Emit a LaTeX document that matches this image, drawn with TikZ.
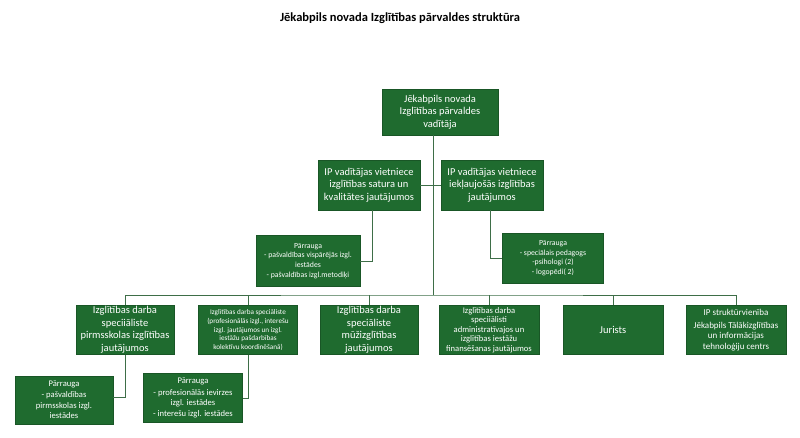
\documentclass[tikz,border=0pt]{standalone}
\usepackage{fontspec}
\setmainfont{Carlito}
\begin{document}
\begin{tikzpicture}[x=1pt,y=-1pt,
 box/.style={fill=gr,draw=gr!80!black,text=white,align=center,inner sep=1pt,font=\fontsize{10.5}{12.5}\selectfont},
 sbox/.style={box,font=\fontsize{7.8}{9.5}\selectfont},
 ln/.style={draw=ln,line width=0.9pt}]
\definecolor{gr}{HTML}{1F6B2F}
\definecolor{ln}{HTML}{3E6E48}
\useasboundingbox (0,0) rectangle (800,438);
\node[font=\bfseries\fontsize{12.5}{14}\selectfont] (title) at (400,18) {Jēkabpils novada Izglītības pārvaldes struktūra};
\node[box,minimum width=116,minimum height=46] (top) at (440,112) {Jēkabpils novada\\Izglītības pārvaldes\\vadītāja};
\node[box,minimum width=102,minimum height=50] (vp1) at (369,185) {IP vadītājas vietniece\\izglītības satura un\\kvalitātes jautājumos};
\node[box,minimum width=102,minimum height=50] (vp2) at (492,185) {IP vadītājas vietniece\\iekļaujošās izglītības\\jautājumos};
\node[sbox,minimum width=104,minimum height=51] (p1) at (308,261) {Pārrauga\\- pašvaldības vispārējās izgl.\\iestādes\\[1pt]- pašvaldības izgl.metodiķi};
\node[sbox,minimum width=101,minimum height=50] (p2) at (553,258) {Pārrauga\\- speciālais pedagogs\\-psihologi (2)\\- logopēdi( 2)};
\node[box,minimum width=98,minimum height=49] (b1) at (125,330) {Izglītības darba\\speciiāliste\\pirmsskolas izglītības\\jautājumos};
\node[sbox,font=\fontsize{7.2}{8.6}\selectfont,minimum width=99,minimum height=49] (b2) at (248,330) {Izglītības darba speciāliste\\(profesionālās izgl., interešu\\izgl. jautājumos un izgl.\\iestāžu pašdarbības\\kolektīvu koordinēšanā)};
\node[box,minimum width=98,minimum height=49] (b3) at (369,330) {Izglītības darba\\speciāliste\\mūžizglītības\\jautājumos};
\node[sbox,font=\fontsize{8.6}{9.6}\selectfont,minimum width=100,minimum height=49] (b4) at (489,330) {Izglītības darba\\speciiālisti\\administratīvajos un\\izglītības iestāžu\\finansēšanas jautājumos};
\node[box,minimum width=100,minimum height=49] (b5) at (613,330) {Jurists};
\node[box,font=\fontsize{9}{10.5}\selectfont,minimum width=100,minimum height=49] (b6) at (736,330) {IP struktūrvienība\\[2pt]Jēkabpils Tālākizglītības\\un informācijas\\tehnoloģiju centrs};
\node[sbox,font=\fontsize{8.6}{10.5}\selectfont,minimum width=98,minimum height=48] (s1) at (64,400) {Pārrauga\\[1pt]- pašvaldības\\pirmsskolas izgl.\\iestādes};
\node[sbox,font=\fontsize{8.6}{10.5}\selectfont,minimum width=99,minimum height=49] (s2) at (193,398) {Pārrauga\\[1pt]- profesionālās ievirzes\\izgl. iestādes\\- interešu izgl. iestādes};
\coordinate (bus) at (433,295);
\draw[ln] (top.south -| bus) -- (bus);
\draw[ln] (vp1.east) -- (vp2.west);
\draw[ln] (b1.north) |- (bus) -| (b6.north);
\foreach \b in {b2,b3,b4,b5} \draw[ln] (\b.north) -- (\b.north |- bus);
\draw[ln] ([xshift=3pt]vp1.south) |- (p1.east);
\draw[ln] ([xshift=-2pt]vp2.south) |- (p2.west);
\draw[ln] (b1.south) |- ([yshift=3pt]s1.east);
\draw[ln] (b2.south) |- (s2.east);
\end{tikzpicture}
\end{document}
